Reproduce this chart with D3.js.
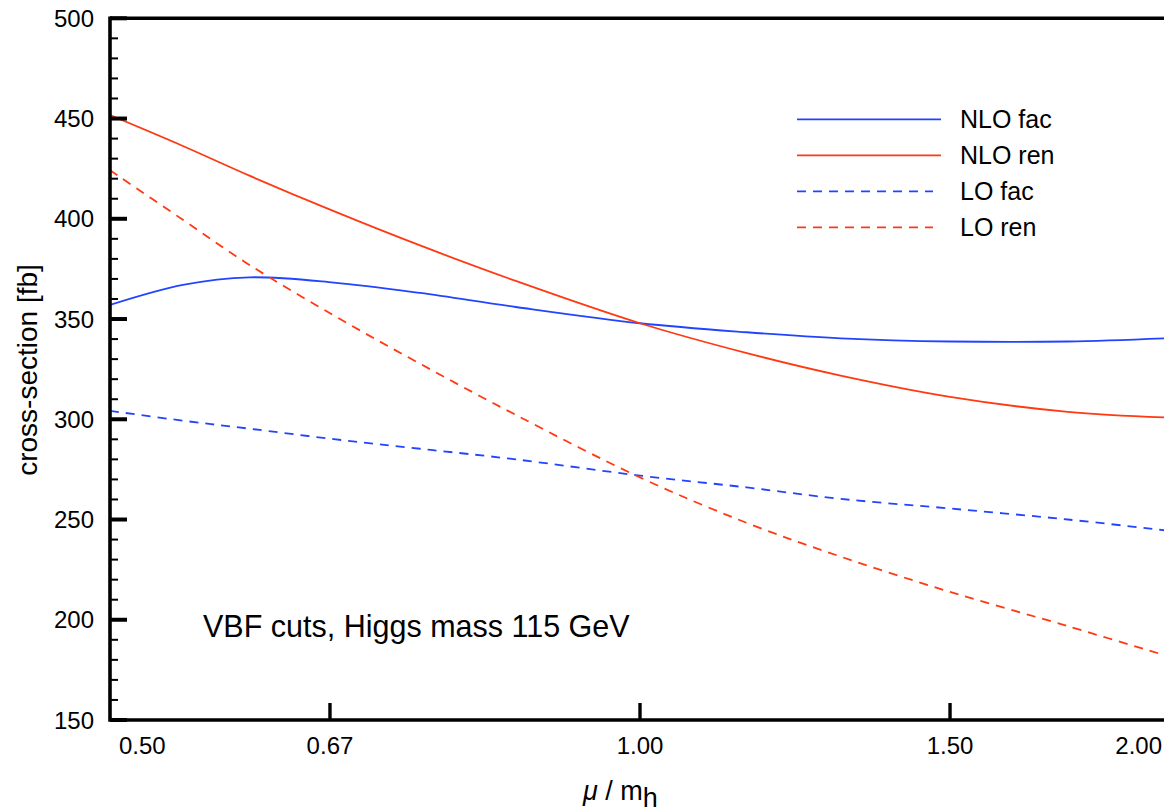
<!DOCTYPE html>
<html>
<head>
<meta charset="utf-8">
<script src="https://cdn.jsdelivr.net/npm/d3@7"></script>
<style>
  body { margin: 0; background: #fff; }
  svg { display: block; font-family: "Liberation Sans", Arial, sans-serif; }
</style>
</head>
<body>
<svg id="chart" width="1164" height="812"></svg>
<script>
// scale values mu / m_h
const muValues = [0.5, 0.55, 0.6, 0.67, 0.75, 0.85, 1.0, 1.15, 1.3, 1.5, 1.75, 2.0]

// cross-section [fb]
const nloFac = [357.0, 367.0, 370.8, 368.2, 363.0, 356.0, 347.9, 343.4, 340.4, 338.8, 338.8, 340.5]
const nloRen = [451.7, 436.3, 421.5, 403.8, 386.7, 369.0, 347.9, 333.0, 321.8, 311.2, 303.7, 300.8]
const loFac  = [304.2, 299.3, 295.3, 290.1, 285.3, 280.0, 271.9, 266.0, 260.3, 255.5, 250.0, 244.3]
const loRen  = [424.2, 399.5, 377.0, 351.8, 327.7, 302.2, 271.0, 248.3, 231.5, 213.9, 196.8, 181.5]

const seriesNames = ['NLO fac', 'NLO ren', 'LO fac', 'LO ren']
const seriesValues = [nloFac, nloRen, loFac, loRen]
const seriesColors = ['#2244ff', '#ff3a12', '#2244ff', '#ff3a12']
const seriesDashed = [false, false, true, true]

const xTickValues = [0.5, 2 / 3, 1.0, 1.5, 2.0]
const xTickLabels = ['0.50', '0.67', '1.00', '1.50', '2.00']
const yMajorTicks = d3.range(150, 501, 50)
const yMinorTicks = d3.range(150, 501, 10).filter(v => v % 50 !== 0)

const svg = d3.select('#chart')

const plotLeft = 110, plotRight = 1170, plotTop = 18.3, plotBottom = 720

const x = d3.scaleLog().base(2).domain([0.5, 2.0]).range([plotLeft, plotRight])
const y = d3.scaleLinear().domain([150, 500]).range([plotBottom, plotTop])

// clip region for the curves
svg.append('defs').append('clipPath')
  .attr('id', 'plot-clip')
  .append('rect')
  .attr('x', plotLeft)
  .attr('y', plotTop)
  .attr('width', plotRight - plotLeft)
  .attr('height', plotBottom - plotTop)

const line = d3.line()
  .x(d => x(d[0]))
  .y(d => y(d[1]))
  .curve(d3.curveCatmullRom)

const curves = svg.append('g').attr('clip-path', 'url(#plot-clip)')

seriesValues.forEach((vals, i) => {
  curves.append('path')
    .datum(muValues.map((m, j) => [m, vals[j]]))
    .attr('d', line)
    .attr('fill', 'none')
    .attr('stroke', seriesColors[i])
    .attr('stroke-width', 1.8)
    .attr('stroke-dasharray', seriesDashed[i] ? '9,7' : null)
})

// frame lines (left, bottom, top)
const frame = svg.append('g').attr('stroke', '#000').attr('stroke-width', 3.6)
frame.append('line').attr('x1', plotLeft).attr('x2', plotLeft).attr('y1', plotTop - 1.8).attr('y2', plotBottom + 1.8)
frame.append('line').attr('x1', plotLeft).attr('x2', plotRight).attr('y1', plotBottom).attr('y2', plotBottom)
frame.append('line').attr('x1', plotLeft).attr('x2', plotRight).attr('y1', plotTop).attr('y2', plotTop)

// y ticks (pointing inward)
svg.append('g').selectAll('line')
  .data(yMajorTicks)
  .enter().append('line')
  .attr('x1', plotLeft).attr('x2', plotLeft + 17)
  .attr('y1', d => y(d)).attr('y2', d => y(d))
  .attr('stroke', '#000').attr('stroke-width', 4)

svg.append('g').selectAll('line')
  .data(yMinorTicks)
  .enter().append('line')
  .attr('x1', plotLeft).attr('x2', plotLeft + 8)
  .attr('y1', d => y(d)).attr('y2', d => y(d))
  .attr('stroke', '#000').attr('stroke-width', 2)

svg.append('g').selectAll('text')
  .data(yMajorTicks)
  .enter().append('text')
  .attr('x', 94)
  .attr('y', d => y(d) + 8.5)
  .attr('text-anchor', 'end')
  .attr('font-size', 24)
  .attr('fill', '#000')
  .text(d => d)

// x ticks (inner ones only, edges sit on the frame)
svg.append('g').selectAll('line')
  .data(xTickValues.slice(1, 4))
  .enter().append('line')
  .attr('x1', d => x(d)).attr('x2', d => x(d))
  .attr('y1', plotBottom).attr('y2', plotBottom - 17)
  .attr('stroke', '#000').attr('stroke-width', 3.4)

svg.append('g').selectAll('text')
  .data(xTickValues)
  .enter().append('text')
  .attr('x', (d, i) => i === 0 ? x(d) + 9 : i === xTickValues.length - 1 ? x(d) - 8 : x(d))
  .attr('y', 754)
  .attr('text-anchor', (d, i) => i === 0 ? 'start' : i === xTickValues.length - 1 ? 'end' : 'middle')
  .attr('font-size', 24)
  .attr('fill', '#000')
  .text((d, i) => xTickLabels[i])

// axis titles
const xTitle = svg.append('text')
  .attr('x', 583)
  .attr('y', 800)
  .attr('font-size', 27)
  .attr('fill', '#000')
xTitle.append('tspan').attr('font-style', 'italic').text('\u03bc')
xTitle.append('tspan').text(' / m')
xTitle.append('tspan').attr('dy', 7).text('h')

svg.append('text')
  .attr('transform', 'translate(37, 370) rotate(-90)')
  .attr('text-anchor', 'middle')
  .attr('font-size', 28)
  .attr('fill', '#000')
  .text('cross-section [fb]')

// annotation
svg.append('text')
  .attr('x', 203)
  .attr('y', 637)
  .attr('font-size', 30.5)
  .attr('fill', '#000')
  .text('VBF cuts, Higgs mass 115 GeV')

// legend
const legendG = svg.selectAll('.legend')
  .data(seriesNames)
  .enter().append('g')
  .attr('class', 'legend')
  .attr('transform', (d, i) => `translate(797, ${119.3 + i * 36})`)

legendG.append('line')
  .attr('x1', 0)
  .attr('x2', (d, i) => seriesDashed[i] ? 136 : 144)
  .attr('y1', 0).attr('y2', 0)
  .attr('stroke', (d, i) => seriesColors[i])
  .attr('stroke-width', 1.8)
  .attr('stroke-dasharray', (d, i) => seriesDashed[i] ? '9,7' : null)

legendG.append('text')
  .attr('x', 163)
  .attr('y', 9)
  .attr('font-size', 25)
  .attr('fill', '#000')
  .text(d => d)
</script>
</body>
</html>
